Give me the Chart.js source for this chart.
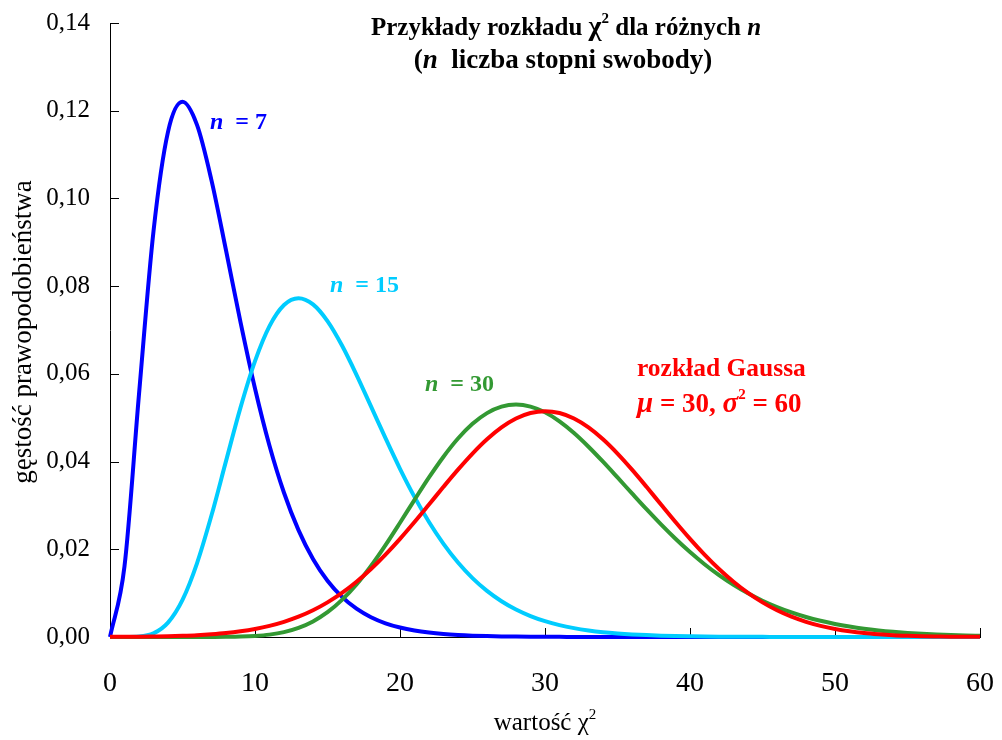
<!DOCTYPE html>
<html>
<head>
<meta charset="utf-8">
<script src="https://cdn.jsdelivr.net/npm/chart.js@4/dist/chart.umd.min.js"></script>
<style>
  html, body { margin: 0; padding: 0; background: #fff; }
  #wrap { width: 1002px; height: 740px; position: relative; }
</style>
</head>
<body>
<div id="wrap"><canvas id="chart" width="1002" height="740"></canvas></div>
<script>
// x values (chi^2 value), every 1 unit
const xValues = [0, 1, 2, 3, 4, 5, 6, 7, 8, 9, 10, 11, 12, 13, 14, 15, 16, 17, 18, 19, 20,
    21, 22, 23, 24, 25, 26, 27, 28, 29, 30, 31, 32, 33, 34, 35, 36, 37, 38, 39, 40,
    41, 42, 43, 44, 45, 46, 47, 48, 49, 50, 51, 52, 53, 54, 55, 56, 57, 58, 59, 60];

// n = 7
const chi7 = [0, 0.01613, 0.05535, 0.09251, 0.11518, 0.12204, 0.11676, 0.10412, 0.08818, 0.07180,
    0.05667, 0.04362, 0.03289, 0.02436, 0.01779, 0.01282, 0.00914, 0.00645, 0.00451, 0.00313,
    0.00216, 0.00148, 0.00101, 0.00068, 0.00046, 0.00031, 0.00021, 0.00014, 0.00009, 0.00006,
    0.00004, 0.00003, 0.00002, 0.00001, 0.00001, 0, 0, 0, 0, 0,
    0, 0, 0, 0, 0, 0, 0, 0, 0, 0,
    0, 0, 0, 0, 0, 0, 0, 0, 0, 0, 0];

// n = 15
const chi15 = [0, 0, 0.00010, 0.00083, 0.00328, 0.00847, 0.01681, 0.02775, 0.04010, 0.05230,
    0.06290, 0.07089, 0.07570, 0.07725, 0.07584, 0.07203, 0.06646, 0.05979, 0.05259, 0.04533,
    0.03836, 0.03195, 0.02622, 0.02123, 0.01698, 0.01343, 0.01051, 0.00815, 0.00626, 0.00477,
    0.00360, 0.00270, 0.00202, 0.00150, 0.00110, 0.00081, 0.00059, 0.00043, 0.00031, 0.00022,
    0.00016, 0.00011, 0.00008, 0.00006, 0.00004, 0.00003, 0.00002, 0.00001, 0.00001, 0,
    0, 0, 0, 0, 0, 0, 0, 0, 0, 0, 0];

// n = 30
const chi30 = [0, 0, 0, 0, 0, 0, 0, 0.00001, 0.00003, 0.00009,
    0.00024, 0.00054, 0.00111, 0.00207, 0.00355, 0.00565, 0.00847, 0.01199, 0.01619, 0.02094,
    0.02604, 0.03127, 0.03638, 0.04111, 0.04525, 0.04861, 0.05105, 0.05252, 0.05300, 0.05253,
    0.05123, 0.04917, 0.04651, 0.04339, 0.03997, 0.03638, 0.03274, 0.02914, 0.02568, 0.02241,
    0.01937, 0.01660, 0.01411, 0.01190, 0.00996, 0.00827, 0.00683, 0.00560, 0.00456, 0.00369,
    0.00297, 0.00238, 0.00189, 0.00150, 0.00118, 0.00092, 0.00072, 0.00056, 0.00043, 0.00033, 0.00026];

// Gauss, mu = 30, sigma^2 = 60
const gauss = [0.00003, 0.00005, 0.00007, 0.00012, 0.00018, 0.00028, 0.00042, 0.00063, 0.00091, 0.00131,
    0.00184, 0.00254, 0.00346, 0.00463, 0.00610, 0.00790, 0.01006, 0.01260, 0.01551, 0.01879,
    0.02238, 0.02622, 0.03021, 0.03424, 0.03815, 0.04181, 0.04507, 0.04778, 0.04981, 0.05107,
    0.05150, 0.05107, 0.04981, 0.04778, 0.04507, 0.04181, 0.03815, 0.03424, 0.03021, 0.02622,
    0.02238, 0.01879, 0.01551, 0.01260, 0.01006, 0.00790, 0.00610, 0.00463, 0.00346, 0.00254,
    0.00184, 0.00131, 0.00091, 0.00063, 0.00042, 0.00028, 0.00018, 0.00012, 0.00007, 0.00005, 0.00003];

const xTickValues = [0, 10, 20, 30, 40, 50, 60];
const yTickValues = [0, 0.02, 0.04, 0.06, 0.08, 0.10, 0.12, 0.14];

const SERIF = "'Liberation Serif', 'Times New Roman', serif";
Chart.defaults.font.family = SERIF;
Chart.defaults.color = '#000';

const toPoints = ys => xValues.map((x, i) => ({ x, y: ys[i] }));

function line(label, ys, color) {
    return {
        label,
        data: toPoints(ys),
        borderColor: color,
        backgroundColor: color,
        borderWidth: 4,
        pointRadius: 0,
        fill: false,
        cubicInterpolationMode: 'monotone',
        clip: false
    };
}

// mixed-font text runs
function runsWidth(ctx, runs) {
    let w = 0;
    runs.forEach(r => { ctx.font = r.font; w += ctx.measureText(r.t).width; });
    return w;
}
function drawRuns(ctx, runs, x, y, color, align) {
    let cx = align === 'center' ? x - runsWidth(ctx, runs) / 2 : x;
    ctx.fillStyle = color;
    ctx.textAlign = 'left';
    ctx.textBaseline = 'alphabetic';
    runs.forEach(r => {
        ctx.font = r.font;
        ctx.fillText(r.t, cx, y + (r.dy || 0));
        cx += ctx.measureText(r.t).width;
    });
}

const B = s => `bold ${s}px ${SERIF}`;
const BI = s => `italic bold ${s}px ${SERIF}`;
const R = s => `${s}px ${SERIF}`;

const decor = {
    id: 'decor',
    beforeDatasetsDraw(chart) {
        // inward tick marks
        const { ctx, scales: { x, y } } = chart;
        ctx.save();
        ctx.strokeStyle = '#000';
        ctx.lineWidth = 1;
        ctx.beginPath();
        yTickValues.forEach(v => {
            const py = Math.round(y.getPixelForValue(v)) + 0.5;
            ctx.moveTo(x.left, py);
            ctx.lineTo(x.left + 9, py);
        });
        xTickValues.forEach(v => {
            const px = Math.round(x.getPixelForValue(v)) + 0.5;
            ctx.moveTo(px, y.bottom);
            ctx.lineTo(px, y.bottom - 9);
        });
        ctx.stroke();
        ctx.restore();
    },
    afterDraw(chart) {
        const ctx = chart.ctx;
        ctx.save();
        // title
        drawRuns(ctx, [
            { t: 'Przykłady rozkładu ', font: B(25) },
            { t: 'χ', font: B(28) },
            { t: '2', font: B(15), dy: -12 },
            { t: ' dla różnych ', font: B(25) },
            { t: 'n', font: BI(25) }
        ], 566, 35, '#000', 'center');
        drawRuns(ctx, [
            { t: '(', font: B(27) },
            { t: 'n', font: BI(27) },
            { t: '  liczba stopni swobody)', font: B(27) }
        ], 563, 68, '#000', 'center');

        // curve labels
        drawRuns(ctx, [{ t: 'n', font: BI(24) }, { t: '  = 7', font: B(24) }], 210, 129, '#0000ff', 'left');
        drawRuns(ctx, [{ t: 'n', font: BI(24) }, { t: '  = 15', font: B(24) }], 330, 292, '#00ccff', 'left');
        drawRuns(ctx, [{ t: 'n', font: BI(24) }, { t: '  = 30', font: B(24) }], 425, 391, '#339933', 'left');
        drawRuns(ctx, [{ t: 'rozkład Gaussa', font: B(25.5) }], 637, 376, '#ff0000', 'left');
        drawRuns(ctx, [
            { t: 'μ', font: BI(29) },
            { t: ' = 30, ', font: B(27) },
            { t: 'σ', font: BI(29) },
            { t: '2', font: B(15), dy: -13 },
            { t: ' = 60', font: B(27) }
        ], 637, 412, '#ff0000', 'left');

        // axis titles
        drawRuns(ctx, [
            { t: 'wartość ', font: R(25) },
            { t: 'χ', font: R(25) },
            { t: '2', font: R(15), dy: -11 }
        ], 545, 730, '#000', 'center');
        ctx.translate(31, 332);
        ctx.rotate(-Math.PI / 2);
        ctx.font = R(27);
        ctx.textAlign = 'center';
        ctx.fillText('gęstość prawopodobieństwa', 0, 0);
        ctx.restore();
    }
};

new Chart(document.getElementById('chart'), {
    type: 'line',
    data: {
        datasets: [
            line('Gauss', gauss, '#ff0000'),
            line('n = 30', chi30, '#339933'),
            line('n = 15', chi15, '#00ccff'),
            line('n = 7', chi7, '#0000ff')
        ]
    },
    options: {
        responsive: false,
        animation: false,
        layout: { padding: { top: 23, right: 22, left: 0, bottom: 0 } },
        plugins: { legend: { display: false }, tooltip: { enabled: false } },
        scales: {
            x: {
                type: 'linear',
                min: 0,
                max: 60,
                afterFit: s => { s.height = 103; s.paddingLeft = 0; s.paddingRight = 0; },
                grid: { display: false, drawTicks: false },
                border: { display: true, color: '#000', width: 1 },
                ticks: {
                    stepSize: 10,
                    padding: 30,
                    color: '#000',
                    font: { size: 28 },
                    maxRotation: 0
                }
            },
            y: {
                min: 0,
                max: 0.14,
                afterFit: s => { s.width = 110; s.paddingTop = 0; s.paddingBottom = 0; },
                grid: { display: false, drawTicks: false },
                border: { display: true, color: '#000', width: 1 },
                ticks: {
                    stepSize: 0.02,
                    padding: 20,
                    color: '#000',
                    font: { size: 25 },
                    callback: v => v.toFixed(2).replace('.', ',')
                }
            }
        }
    },
    plugins: [decor]
});
</script>
</body>
</html>
